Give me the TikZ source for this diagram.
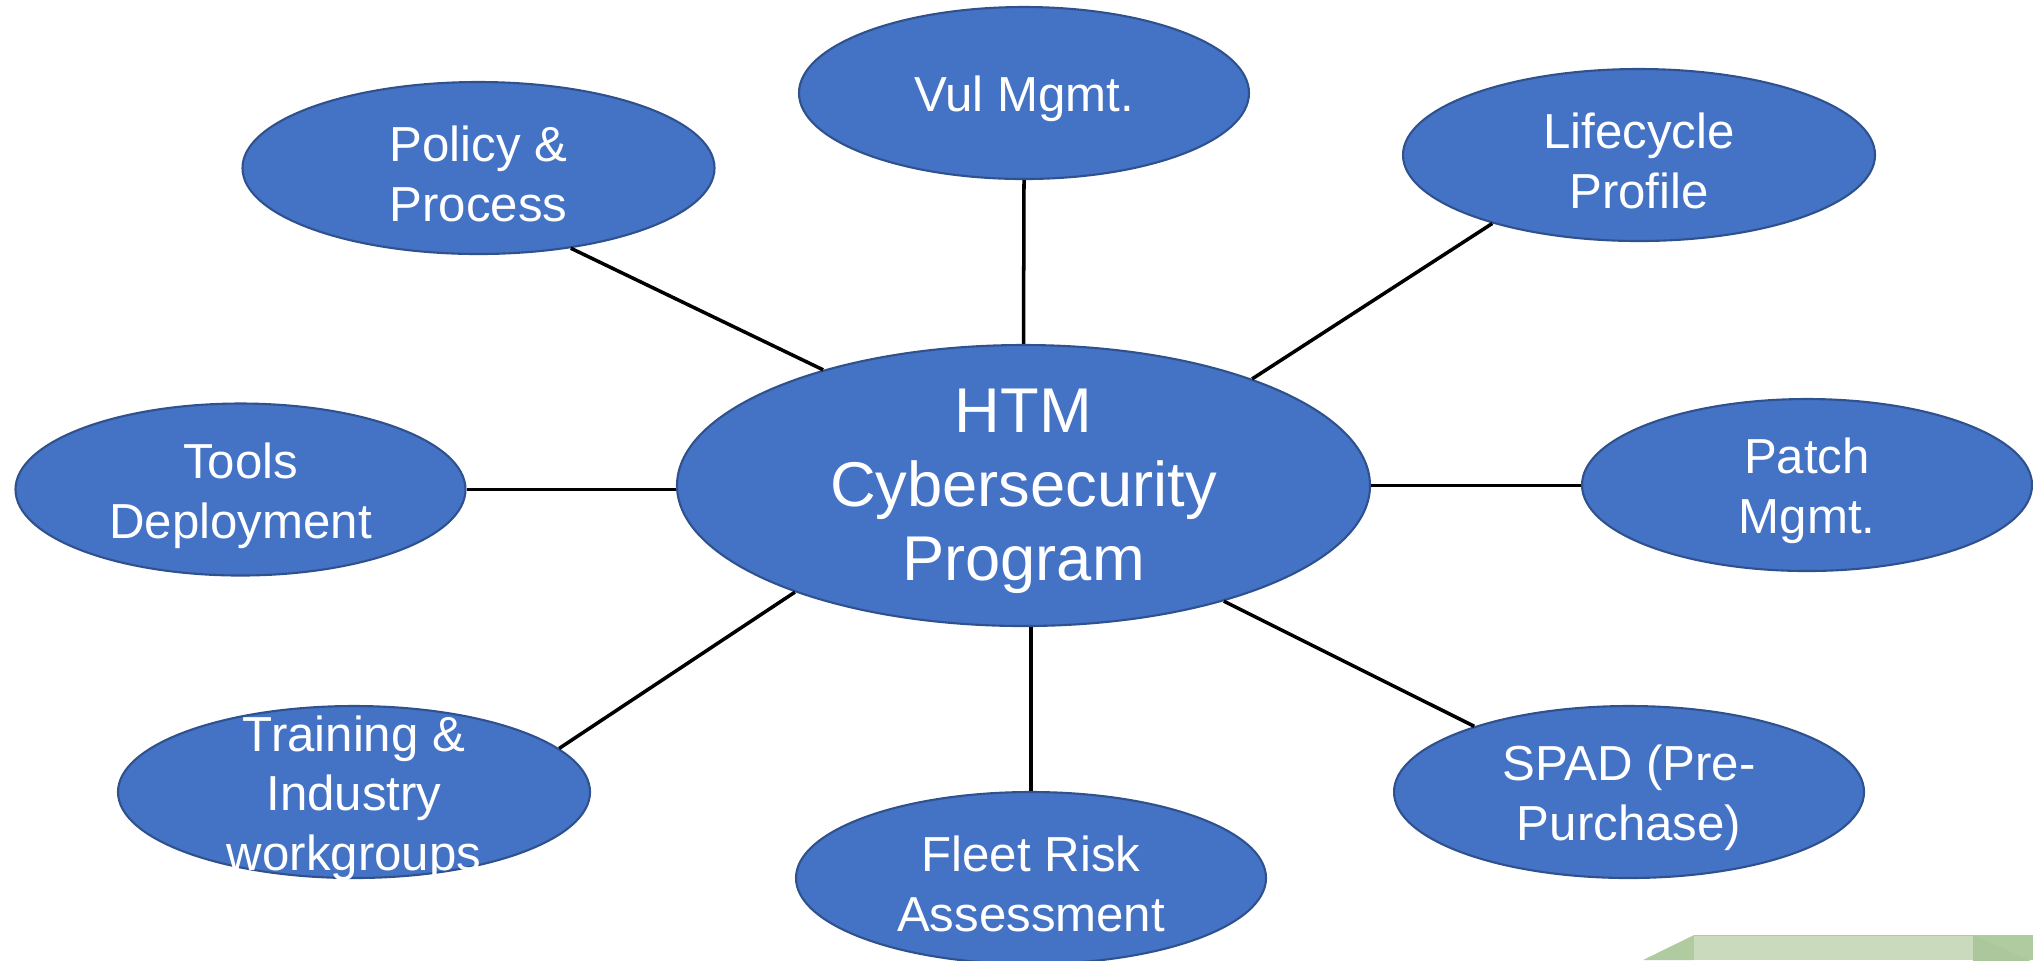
\documentclass[tikz,border=0pt]{standalone}
\usepackage{fontspec}
\setmainfont{Liberation Sans}
\usepackage{tikz}
\usepackage{xcolor}
\usetikzlibrary{shapes.geometric}
\definecolor{BubbleBlue}{HTML}{4472C4}
\definecolor{BubbleEdge}{HTML}{2F528F}
\definecolor{StripLight}{HTML}{C9DABD}
\definecolor{StripDark}{HTML}{B1CBA1}
\definecolor{StripShade}{HTML}{ABC79B}

\begin{document}
\begin{tikzpicture}[
      bubble/.style={ellipse,draw=BubbleEdge,line width=0.6pt,fill=BubbleBlue,inner sep=0pt,minimum height=1.72cm},
      bubbletext/.style={text=white,align=center,yshift=-0.6mm,font=\fontsize{14}{17}\selectfont},
      spoke/.style={draw=black,line width=1pt}
    ]
      \useasboundingbox (0,0) rectangle (20.33,-9.6);
      % green strip, bottom right corner
      \fill[StripDark] (16.43,-9.6) -- (16.94,-9.35) -- (16.94,-9.6) -- cycle;
      \fill[StripLight] (16.94,-9.35) rectangle (19.73,-9.6);
      \fill[StripDark] (19.73,-9.35) rectangle (20.33,-9.6);
      \fill[StripShade] (19.73,-9.35) -- (20.33,-9.62) -- (19.73,-9.62) -- cycle;
      \draw[black!25,line width=0.3pt] (16.94,-9.35) -- (20.33,-9.35);
      % bubbles
      \node[bubble,minimum width=6.93cm,minimum height=2.81cm] (hub) at (10.235,-4.855) {};
      \node[bubble,minimum width=4.50cm] (vul) at (10.24,-0.93) {};
      \node[bubble,minimum width=4.72cm] (policy) at (4.785,-1.68) {};
      \node[bubble,minimum width=4.72cm] (life) at (16.39,-1.55) {};
      \node[bubble,minimum width=4.50cm] (tools) at (2.405,-4.895) {};
      \node[bubble,minimum width=4.50cm] (patch) at (18.07,-4.85) {};
      \node[bubble,minimum width=4.72cm] (train) at (3.54,-7.92) {};
      \node[bubble,minimum width=4.70cm] (fleet) at (10.31,-8.78) {};
      \node[bubble,minimum width=4.70cm] (spad) at (16.29,-7.92) {};
      % texts
      \node[bubbletext,font=\fontsize{18}{21}\selectfont] (hubtxt) at (hub) {HTM\\Cybersecurity\\Program};
      \node[bubbletext] (vultxt) at (vul) {Vul Mgmt.};
      \node[bubbletext] (policytxt) at (policy) {Policy \&\\Process};
      \node[bubbletext] (lifetxt) at (life) {Lifecycle\\Profile};
      \node[bubbletext] (toolstxt) at (tools) {Tools\\Deployment};
      \node[bubbletext] (patchtxt) at (patch) {Patch\\Mgmt.};
      \node[bubbletext] (traintxt) at (train) {Training \&\\Industry\\workgroups};
      \node[bubbletext] (fleettxt) at (fleet) {Fleet Risk\\Assessment};
      \node[bubbletext] (spadtxt) at (spad) {SPAD (Pre-\\Purchase)};
      % spokes
      \draw[spoke] (vul.south) -- (hub.north);
      \draw[spoke] (policy.319.8) -- (hub.150.6);
      \draw[spoke] (life.205) -- (hub.25.2);
      \draw[spoke] (tools.east) -- (tools.east -| hub.west);
      \draw[spoke] (hub.east) -- (hub.east -| patch.west);
      \draw[spoke] (train.12.7) -- (hub.205.2);
      \draw[spoke] (fleet.north) -- (fleet.north |- hub.south);
      \draw[spoke] (spad.157) -- (hub.330);
    \end{tikzpicture}
\end{document}
